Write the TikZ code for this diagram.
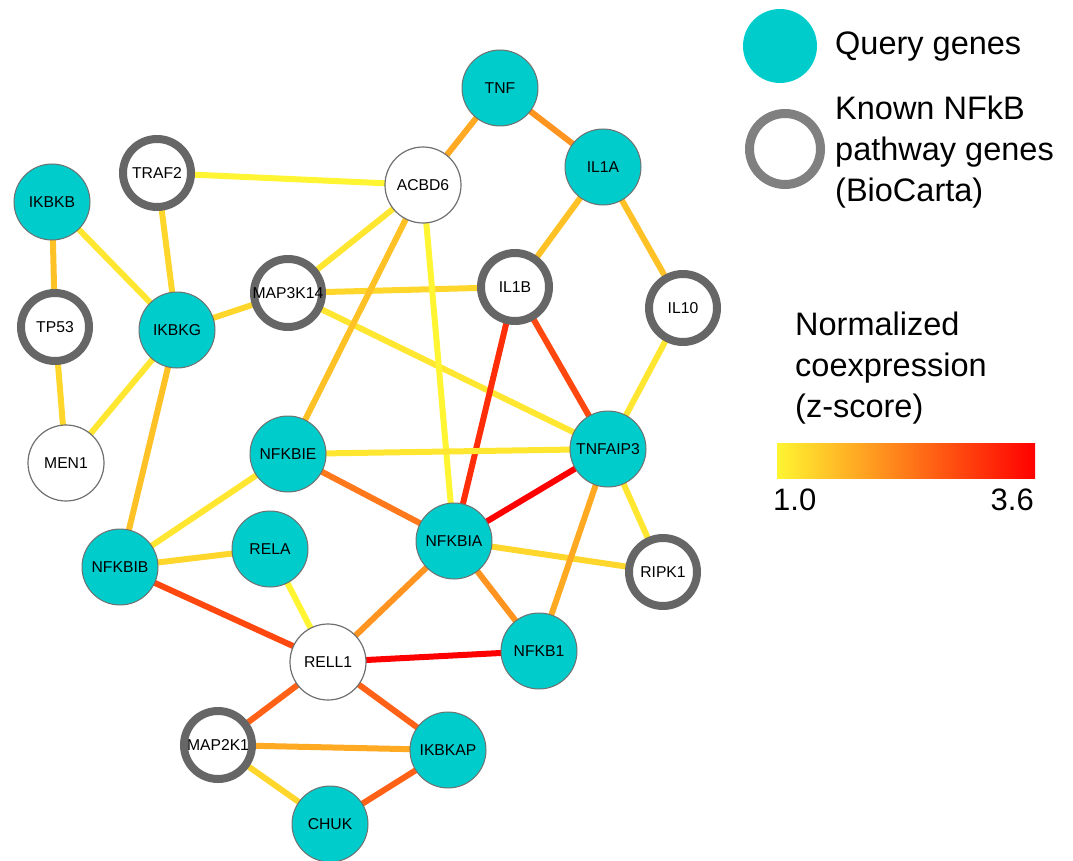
\documentclass[tikz,border=0pt]{standalone}
\usepackage{fontspec}
\setmainfont{Liberation Sans}
\usetikzlibrary{backgrounds}
\definecolor{teal0}{RGB}{0,204,204}
\definecolor{bord}{RGB}{112,112,112}
\definecolor{ringc}{RGB}{102,102,102}
\definecolor{legring}{RGB}{128,128,128}
\definecolor{zA}{RGB}{255,245,50}
\definecolor{zB}{RGB}{255,230,48}
\definecolor{zC}{RGB}{255,214,44}
\definecolor{zD}{RGB}{255,194,38}
\definecolor{zE}{RGB}{255,170,34}
\definecolor{zF}{RGB}{255,148,32}
\definecolor{zG}{RGB}{255,120,28}
\definecolor{zH}{RGB}{255,98,22}
\definecolor{zI}{RGB}{255,72,15}
\definecolor{zJ}{RGB}{255,45,8}
\definecolor{zK}{RGB}{255,0,0}
\newcommand{\gtxt}[1]{\makebox[0pt]{#1}}
\tikzset{
  gene/.style={circle, inner sep=0pt, font=\fontsize{15.7}{18}\selectfont},
  query/.style={gene, fill=teal0, draw=bord, line width=1pt, minimum size=76pt},
  known/.style={gene, fill=white, draw=ringc, line width=8pt, minimum size=68pt},
  other/.style={gene, fill=white, draw=bord, line width=1.2pt, minimum size=76pt},
  ed/.style={line width=6pt},
  leg/.style={anchor=base west, inner sep=0pt, font=\fontsize{32.5}{40}\selectfont},
}
\begin{document}
\begin{tikzpicture}[x=1pt,y=-1pt]
\useasboundingbox (0,0) rectangle (1073,861);
% nodes
\node[query] (TNF) at (500,88) {\gtxt{TNF}};
\node[query] (IL1A) at (603,167) {\gtxt{IL1A}};
\node[other] (ACBD6) at (423,185) {\gtxt{ACBD6}};
\node[known] (TRAF2) at (157,173) {\gtxt{TRAF2}};
\node[query] (IKBKB) at (52,202) {\gtxt{IKBKB}};
\node[known] (MAP3K14) at (288,293) {\gtxt{MAP3K14}};
\node[known] (IL1B) at (515,287) {\gtxt{IL1B}};
\node[known] (IL10) at (683,308) {\gtxt{IL10}};
\node[known] (TP53) at (55,327) {\gtxt{TP53}};
\node[query] (IKBKG) at (177,330) {\gtxt{IKBKG}};
\node[other] (MEN1) at (66,463) {\gtxt{MEN1}};
\node[query] (NFKBIE) at (288,454) {\gtxt{NFKBIE}};
\node[query] (TNFAIP3) at (608,449) {\gtxt{TNFAIP3}};
\node[query] (NFKBIA) at (454,541) {\gtxt{NFKBIA}};
\node[query] (RELA) at (270,549) {\gtxt{RELA}};
\node[query] (NFKBIB) at (120,567) {\gtxt{NFKBIB}};
\node[known] (RIPK1) at (663,572) {\gtxt{RIPK1}};
\node[query] (NFKB1) at (539,651) {\gtxt{NFKB1}};
\node[other] (RELL1) at (328,662) {\gtxt{RELL1}};
\node[known] (MAP2K1) at (218,745) {\gtxt{MAP2K1}};
\node[query] (IKBKAP) at (448,750) {\gtxt{IKBKAP}};
\node[query] (CHUK) at (330,824) {\gtxt{CHUK}};
% edges
\begin{pgfonlayer}{background}
\draw[ed,zE] (TNF.center) -- (ACBD6.center);
\draw[ed,zF] (TNF.center) -- (IL1A.center);
\draw[ed,zD] (IL1A.center) -- (IL1B.center);
\draw[ed,zD] (IL1A.center) -- (IL10.center);
\draw[ed,zA] (TRAF2.center) -- (ACBD6.center);
\draw[ed,zC] (TRAF2.center) -- (IKBKG.center);
\draw[ed,zD] (IKBKB.center) -- (TP53.center);
\draw[ed,zB] (IKBKB.center) -- (IKBKG.center);
\draw[ed,zC] (TP53.center) -- (MEN1.center);
\draw[ed,zB] (IKBKG.center) -- (MEN1.center);
\draw[ed,zC] (IKBKG.center) -- (MAP3K14.center);
\draw[ed,zD] (IKBKG.center) -- (NFKBIB.center);
\draw[ed,zB] (MAP3K14.center) -- (ACBD6.center);
\draw[ed,zC] (MAP3K14.center) -- (IL1B.center);
\draw[ed,zB] (MAP3K14.center) -- (TNFAIP3.center);
\draw[ed,zD] (ACBD6.center) -- (NFKBIE.center);
\draw[ed,zA] (ACBD6.center) -- (NFKBIA.center);
\draw[ed,zJ] (IL1B.center) -- (NFKBIA.center);
\draw[ed,zI] (IL1B.center) -- (TNFAIP3.center);
\draw[ed,zB] (IL10.center) -- (TNFAIP3.center);
\draw[ed,zB] (NFKBIE.center) -- (TNFAIP3.center);
\draw[ed,zG] (NFKBIE.center) -- (NFKBIA.center);
\draw[ed,zB] (NFKBIE.center) -- (NFKBIB.center);
\draw[ed,zK] (NFKBIA.center) -- (TNFAIP3.center);
\draw[ed,zC] (NFKBIA.center) -- (RIPK1.center);
\draw[ed,zF] (NFKBIA.center) -- (NFKB1.center);
\draw[ed,zF] (NFKBIA.center) -- (RELL1.center);
\draw[ed,zB] (TNFAIP3.center) -- (RIPK1.center);
\draw[ed,zE] (TNFAIP3.center) -- (NFKB1.center);
\draw[ed,zC] (NFKBIB.center) -- (RELA.center);
\draw[ed,zI] (NFKBIB.center) -- (RELL1.center);
\draw[ed,zA] (RELA.center) -- (RELL1.center);
\draw[ed,zK] (RELL1.center) -- (NFKB1.center);
\draw[ed,zH] (RELL1.center) -- (MAP2K1.center);
\draw[ed,zH] (RELL1.center) -- (IKBKAP.center);
\draw[ed,zE] (MAP2K1.center) -- (IKBKAP.center);
\draw[ed,zC] (MAP2K1.center) -- (CHUK.center);
\draw[ed,zH] (IKBKAP.center) -- (CHUK.center);
\end{pgfonlayer}
% legend
\node[circle, fill=teal0, minimum size=74pt, inner sep=0pt] (legq) at (780,46) {};
\node[circle, fill=white, draw=legring, line width=9pt, minimum size=71pt, inner sep=0pt] (legk) at (785,149) {};
\node[leg] (t1) at (835,55) {Query genes};
\node[leg] (t2) at (835,120) {Known NFkB};
\node[leg] (t3) at (835,161) {pathway genes};
\node[leg] (t4) at (835,202) {(BioCarta)};
\node[leg] (t5) at (795,335) {Normalized};
\node[leg] (t6) at (795,376) {coexpression};
\node[leg] (t7) at (795,417) {(z-score)};
\shade[left color=zA, middle color={rgb,255:red,255;green,135;blue,30}, right color=zK] (777,443) rectangle (1035,478);
\node[anchor=base west, inner sep=0pt, font=\fontsize{31}{36}\selectfont] (lo) at (773,510) {1.0};
\node[anchor=base east, inner sep=0pt, font=\fontsize{31}{36}\selectfont] (hi) at (1034,510) {3.6};
\end{tikzpicture}
\end{document}
